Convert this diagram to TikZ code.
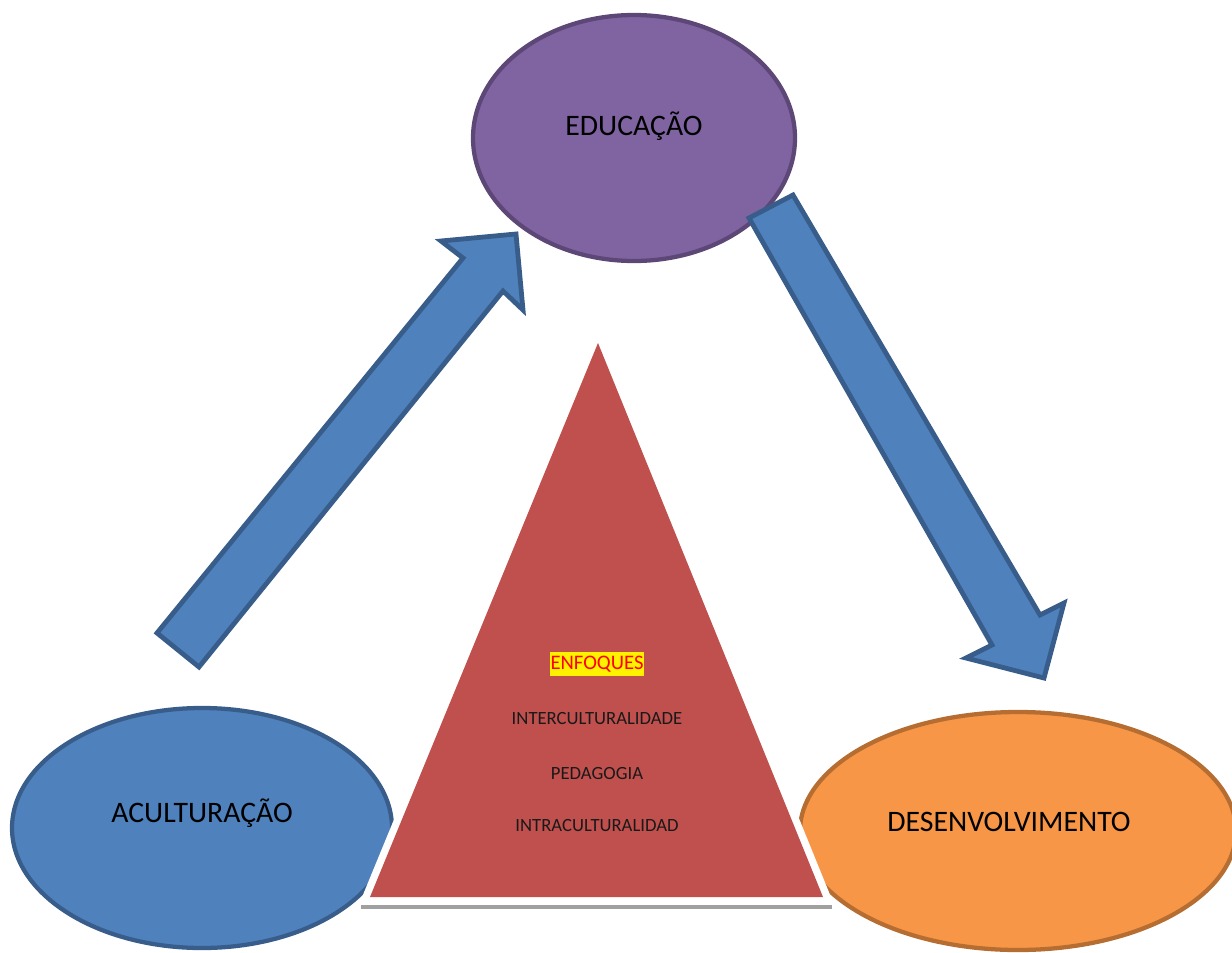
\documentclass[tikz,border=0pt]{standalone}
\usepackage{fontspec}
\setmainfont{Carlito}
\usetikzlibrary{shapes.geometric}
\definecolor{eduFill}{HTML}{8064A2}
\definecolor{eduLine}{HTML}{5C4776}
\definecolor{blueFill}{HTML}{4F81BD}
\definecolor{blueLine}{HTML}{385D8A}
\definecolor{orangeFill}{HTML}{F79646}
\definecolor{orangeLine}{HTML}{B66D31}
\definecolor{triFill}{HTML}{C0504D}
\definecolor{shadowGray}{HTML}{A0A0A0}
\tikzset{
  bubble/.style={ellipse, inner sep=0pt, line width=3.2pt},
  bigarrow/.style={fill=blueFill, draw=blueLine, line width=3.6pt, line join=miter},
  bigtext/.style={font=\fontsize{22.3}{26}\selectfont, text=black},
  smalltext/.style={font=\fontsize{14}{17}\selectfont, text=black!90},
}
\begin{document}
\begin{tikzpicture}[x=0.75pt, y=-0.75pt]
  \useasboundingbox (0,0) rectangle (1232,953);

  % the three ellipses
  \node[bubble, fill=eduFill, draw=eduLine, minimum width=241.5pt, minimum height=184.5pt] (edu) at (634,138) {};
  \node[bubble, fill=blueFill, draw=blueLine, minimum width=285pt, minimum height=180pt] (acu) at (202,828) {};
  \node[bubble, fill=orangeFill, draw=orangeLine, minimum width=327pt, minimum height=178.5pt] (des) at (1018,831) {};

  \node[bigtext] (eduT) at (634,126) {EDUCAÇÃO};
  \node[bigtext] (acuT) at (202,813) {ACULTURAÇÃO};
  \node[bigtext] (desT) at (1009,822) {DESENVOLVIMENTO};

  % block arrow from ACULTURAÇÃO up to EDUCAÇÃO
  \draw[bigarrow] (157,633) -- (463,258) -- (441,241) -- (516,234) -- (523,310) -- (503,291) -- (199,667) -- cycle;

  % block arrow from EDUCAÇÃO down to DESENVOLVIMENTO
  \draw[bigarrow] (749,218) -- (793,195) -- (1040,615) -- (1064,603) -- (1044,678) -- (966,658) -- (992,645) -- cycle;

  % shadow line under the triangle
  \draw[shadowGray, line width=3pt] (361,907) -- (832,907);

  % central triangle with a white rim outside its red face
  \draw[draw=white, line width=11pt, line join=round] (598,343) -- (823,897) -- (370,897) -- cycle;
  \fill[triFill] (598,343) -- (823,897) -- (370,897) -- cycle;
  \coordinate (apex) at (598,343);

  \node[smalltext, fill=yellow, text=red, inner xsep=0.6pt, inner ysep=2.6pt, font=\fontsize{15.5}{18}\selectfont] (enf) at (597,664) {ENFOQUES};
  \node[smalltext] (inter) at (597,719) {INTERCULTURALIDADE};
  \node[smalltext] (peda) at (597,773) {PEDAGOGIA};
  \node[smalltext] (intra) at (597,826) {INTRACULTURALIDAD};
\end{tikzpicture}
\end{document}
